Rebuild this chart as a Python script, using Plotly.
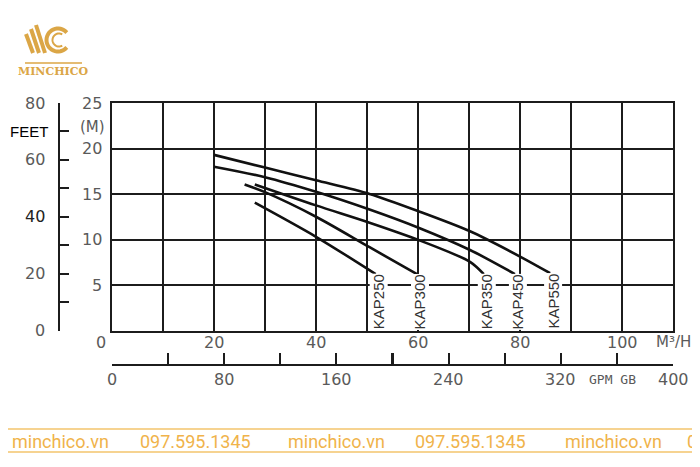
import math
import plotly.graph_objects as go

# The page body has an 8px default margin, so the figure is drawn 8px smaller
# and all pixel positions below are given in window coordinates.
OFF = 8
W, H = 700 - OFF, 467 - OFF

# ---------------- data ----------------
curve_names = ["KAP250", "KAP300", "KAP350", "KAP450", "KAP550"]
flow_kap250 = [28, 40, 51.7]
head_kap250 = [14.05, 10.3, 6.2]
flow_kap300 = [26, 30, 40, 50.5, 59.8]
head_kap300 = [16.05, 15.2, 12.5, 9.15, 6.2]
flow_kap350 = [28, 40, 50.5, 60.1, 70.2, 72.9]
head_kap350 = [16.05, 13.75, 11.85, 9.95, 7.55, 6.2]
flow_kap450 = [20, 30, 40, 50.5, 60.1, 70.2, 79.0]
head_kap450 = [18.0, 16.85, 15.25, 13.3, 11.3, 8.85, 6.2]
flow_kap550 = [20, 30, 40, 50.5, 60.1, 70.2, 80.1, 85.9]
head_kap550 = [19.3, 17.9, 16.5, 15.0, 13.1, 10.9, 8.1, 6.3]

m3h_ticks = [0, 20, 40, 60, 80, 100]
m3h_labels = ["0", "20", "40", "60", "80", "100"]
m3h_unit = "M³/H"
head_m_ticks = [5, 10, 15, 20, 25]
head_m_labels = ["5", "10", "15", "20", "25"]
head_m_unit = "(M)"
feet_ticks = [0, 20, 40, 60, 80]
feet_labels = ["0", "20", "40", "60", "80"]
feet_unit = "FEET"
gpm_ticks = [0, 80, 160, 240, 320, 400]
gpm_labels = ["0", "80", "160", "240", "320", "400"]
gpm_unit = "GPM GB"
gpm_mid_tick = 200
brand = "MINCHICO"
watermark_texts = ["minchico.vn", "097.595.1345", "minchico.vn",
                   "097.595.1345", "minchico.vn", "0"]

# ---------------- helpers ----------------
def fx(px):
    return (px - OFF) / W

def fy(py):
    return 1 - (py - OFF) / H

INK = "#1c1c1c"
GRAY = "#5a5a5a"
GOLD = "#dba646"
WM = "#f0b34a"
AXFONT = "DejaVu Sans"

flows = [flow_kap250, flow_kap300, flow_kap350, flow_kap450, flow_kap550]
heads = [head_kap250, head_kap300, head_kap350, head_kap450, head_kap550]

fig = go.Figure()
for name, fl, hd in zip(curve_names, flows, heads):
    fig.add_trace(go.Scatter(
        x=fl, y=hd, mode="lines", name=name,
        line=dict(color="#111111", width=2.6, shape="spline", smoothing=0.8),
        hoverinfo="skip", showlegend=False, xaxis="x", yaxis="y"))

# dummy trace to activate secondary (feet / GPM) axes
fig.add_trace(go.Scatter(x=[0], y=[0], mode="markers", marker=dict(opacity=0),
                         hoverinfo="skip", showlegend=False,
                         xaxis="x2", yaxis="y2"))

common = dict(showline=True, linecolor=INK, linewidth=2, zeroline=False,
              showticklabels=False, automargin=False, fixedrange=True)

fig.update_layout(
    width=W, height=H, autosize=False,
    margin=dict(l=0, r=0, t=0, b=0, pad=0),
    paper_bgcolor="white", plot_bgcolor="white",
    showlegend=False,
    xaxis=dict(domain=[fx(112), fx(673)], range=[0, 110], dtick=10, tick0=0,
               showgrid=True, gridcolor=INK, gridwidth=2, mirror=True,
               ticks="", anchor="y", **common),
    yaxis=dict(domain=[fy(330.5), fy(103)], range=[0, 25], dtick=5, tick0=0,
               showgrid=True, gridcolor=INK, gridwidth=2, mirror=True,
               ticks="", anchor="x", **common),
    yaxis2=dict(overlaying="y", anchor="free", position=fx(59), side="left",
                range=[0, 80], dtick=10, tick0=0, ticks="inside", ticklen=9,
                tickwidth=2, tickcolor=INK, showgrid=False, **common),
    xaxis2=dict(overlaying="x", anchor="free", position=fy(365), side="bottom",
                range=[0, 400], dtick=40, tick0=0, ticks="inside", ticklen=11,
                tickwidth=2, tickcolor=INK, showgrid=False, **common),
)

ann = []
def label(text, x, y, xref="paper", yref="paper", size=16, color=GRAY,
          family=AXFONT, xanchor="center", yanchor="middle", **kw):
    ann.append(dict(text=text, x=x, y=y, xref=xref, yref=yref, showarrow=False,
                    font=dict(size=size, color=color, family=family),
                    xanchor=xanchor, yanchor=yanchor, **kw))

# M3/H axis labels
for v, t in zip(m3h_ticks, m3h_labels):
    label(t, v, fy(342), xref="x", xshift=-11 if v == 0 else 0)
label(m3h_unit, 110, fy(342), xref="x", size=15)

# GPM axis labels
for v, t in zip(gpm_ticks, gpm_labels):
    label(t, v, fy(379), xref="x2")
label(gpm_unit, fx(612), fy(379), size=13, family="DejaVu Sans Mono")

# Head (m) labels
for v, t in zip(head_m_ticks, head_m_labels):
    label(t, fx(104), v, yref="y", xanchor="right")
label(head_m_unit, fx(92), fy(127), size=15)

# Feet labels
for v, t in zip(feet_ticks, feet_labels):
    label(t, fx(47), v, yref="y2", xanchor="right", color="#222" if v == 40 else GRAY)
label(feet_unit, fx(50), 70, yref="y2", xanchor="right", size=15,
      color="#000", family="Liberation Sans")

# Curve labels at curve ends
for name, fl in zip(curve_names, flows):
    ann.append(dict(text=name, x=fl[-1], y=fy(301.5), xref="x", yref="paper",
                    xshift=3, showarrow=False, textangle=-90, bgcolor="white",
                    borderpad=0,
                    font=dict(size=15, color="#333", family="Liberation Sans Narrow, Liberation Sans"),
                    xanchor="center", yanchor="middle"))

# Logo text
label("<b>" + brand + "</b>", fx(53), fy(72), size=11, color=GOLD, family="DejaVu Serif")

# Watermark texts
wm_x = [60, 195, 336, 470, 613, 692]
for t, xc in zip(watermark_texts, wm_x):
    label(t, fx(xc), fy(441), size=18, color=WM, family="Roboto")

fig.update_layout(annotations=ann)

# ---------------- decorative shapes ----------------
shapes = []
def pline(x0, y0, x1, y1, color, width):
    shapes.append(dict(type="line", xref="paper", yref="paper",
                       x0=fx(x0), y0=fy(y0), x1=fx(x1), y1=fy(y1),
                       line=dict(color=color, width=width)))

# heavier middle tick on the GPM scale
shapes.append(dict(type="line", xref="x2", yref="paper",
                   x0=gpm_mid_tick, x1=gpm_mid_tick, y0=fy(365), y1=fy(353),
                   line=dict(color=INK, width=3)))

# watermark rules
pline(0, 429, 700, 429, "#f3c46c", 1.5)
pline(0, 452, 700, 452, "#f3c46c", 1.5)

# logo stripes
pline(26, 34, 33, 53, GOLD, 4)
pline(31, 29, 39, 53, GOLD, 4)
pline(36, 25, 45, 53, GOLD, 4)

# logo C arcs
def arc_path(cx, cy, r, a0, a1, n=30):
    pts = []
    for i in range(n + 1):
        a = math.radians(a0 + (a1 - a0) * i / n)
        px = cx + r * math.cos(a)
        py = cy - r * math.sin(a)
        pts.append(f"{fx(px):.5f},{fy(py):.5f}")
    return "M " + " L ".join(pts)

shapes.append(dict(type="path", xref="paper", yref="paper",
                   path=arc_path(58, 40, 11.5, 40, 320),
                   line=dict(color=GOLD, width=4)))
shapes.append(dict(type="path", xref="paper", yref="paper",
                   path=arc_path(59, 40, 6.5, 60, 300),
                   line=dict(color=GOLD, width=2)))
# logo underline
pline(25, 63, 82, 63, GOLD, 1.5)

fig.update_layout(shapes=shapes)

fig.write_html("out.html")
